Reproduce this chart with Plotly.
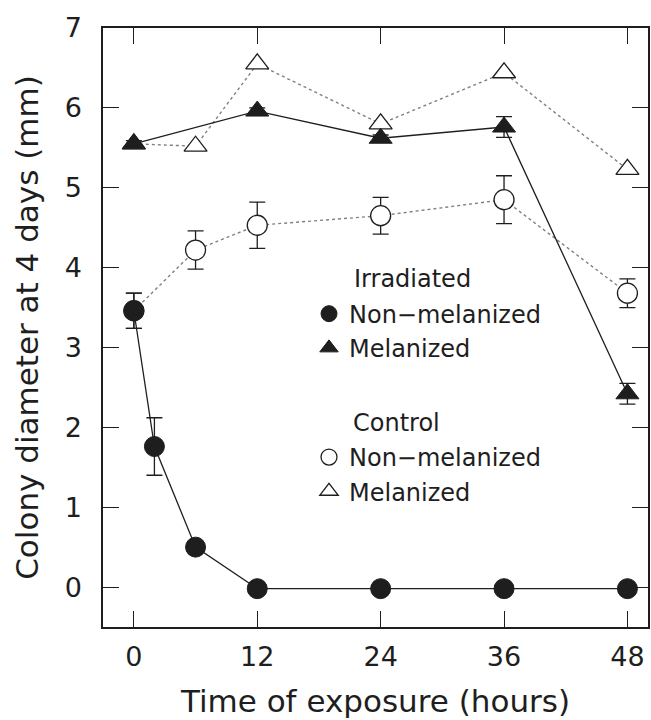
import plotly.graph_objects as go

# Data
t_irr_nonmel = [0, 2, 6, 12, 24, 36, 48]
irr_nonmel = [3.46, 1.76, 0.50, -0.02, -0.02, -0.02, -0.02]
irr_nonmel_err = [0.22, 0.36, 0, 0, 0, 0, 0]

t_irr_mel = [0, 12, 24, 36, 48]
irr_mel = [5.55, 5.96, 5.62, 5.76, 2.42]
irr_mel_err = [0.04, 0.04, 0.04, 0.13, 0.13]

t_ctrl = [0, 6, 12, 24, 36, 48]
ctrl_nonmel = [3.46, 4.22, 4.53, 4.65, 4.85, 3.68]
ctrl_nonmel_err = [0.22, 0.24, 0.29, 0.23, 0.30, 0.18]
ctrl_mel = [5.55, 5.52, 6.55, 5.80, 6.44, 5.23]

x_ticks = [0, 12, 24, 36, 48]
y_ticks = [0, 1, 2, 3, 4, 5, 6, 7]

FONT = "DejaVu Sans"
DARK = "#1e1e1e"
GRAY = "#808080"
MS = 20

fig = go.Figure()

# connecting lines (no legend)
fig.add_trace(go.Scatter(x=t_ctrl, y=ctrl_mel, mode="lines",
                         line=dict(color=GRAY, width=1.4, dash="dot"), showlegend=False, hoverinfo="skip"))
fig.add_trace(go.Scatter(x=t_ctrl, y=ctrl_nonmel, mode="lines",
                         line=dict(color=GRAY, width=1.4, dash="dot"), showlegend=False, hoverinfo="skip"))
fig.add_trace(go.Scatter(x=t_irr_mel, y=irr_mel, mode="lines",
                         line=dict(color=DARK, width=1.3), showlegend=False, hoverinfo="skip"))
fig.add_trace(go.Scatter(x=t_irr_nonmel, y=irr_nonmel, mode="lines",
                         line=dict(color=DARK, width=1.3), showlegend=False, hoverinfo="skip"))

# control markers
fig.add_trace(go.Scatter(x=t_ctrl, y=ctrl_nonmel, mode="markers", name="Non\u2212melanized",
                         legendgroup="ctrl", legendrank=3,
                         marker=dict(symbol="circle", size=MS, color="white", line=dict(color=DARK, width=1.3)),
                         error_y=dict(type="data", array=ctrl_nonmel_err, color=DARK, thickness=1.3, width=8)))
fig.add_trace(go.Scatter(x=t_ctrl, y=ctrl_mel, mode="markers", name="Melanized",
                         legendgroup="ctrl", legendrank=4,
                         marker=dict(symbol="triangle-up", size=MS, color="white", line=dict(color=DARK, width=1.3))))

# irradiated markers
fig.add_trace(go.Scatter(x=t_irr_nonmel, y=irr_nonmel, mode="markers", name="Non\u2212melanized",
                         legendgroup="irr", legendrank=1,
                         marker=dict(symbol="circle", size=MS, color=DARK, line=dict(color=DARK, width=1)),
                         error_y=dict(type="data", array=irr_nonmel_err, color=DARK, thickness=1.3, width=8)))
fig.add_trace(go.Scatter(x=t_irr_mel, y=irr_mel, mode="markers", name="Melanized",
                         legendgroup="irr", legendrank=2,
                         marker=dict(symbol="triangle-up", size=MS, color=DARK, line=dict(color=DARK, width=1)),
                         error_y=dict(type="data", array=irr_mel_err, color=DARK, thickness=1.3, width=8)))

axis_common = dict(showgrid=False, zeroline=False, showline=True, linecolor=DARK, linewidth=1.5,
                   mirror="ticks", ticks="inside", ticklen=16, tickwidth=1.3, tickcolor=DARK,
                   tickfont=dict(family=FONT, size=27, color=DARK))

fig.update_layout(
    width=651, height=720,
    margin=dict(l=103, r=1, t=28, b=93),
    paper_bgcolor="white", plot_bgcolor="white",
    font=dict(family=FONT, color=DARK),
    xaxis=dict(range=[-3, 50], tickvals=x_ticks, ticklabelstandoff=5,
               title=dict(text="Time of exposure (hours)", font=dict(family=FONT, size=31, color=DARK), standoff=19),
               **axis_common),
    yaxis=dict(range=[-0.5, 7], tickvals=y_ticks, ticklabelstandoff=14,
               title=dict(text="Colony diameter at 4 days (mm)", font=dict(family=FONT, size=31, color=DARK), standoff=17),
               **axis_common),
    legend=dict(x=0.378, y=0.56, xanchor="left", yanchor="top", traceorder="grouped",
                tracegroupgap=75, bgcolor="rgba(0,0,0,0)", font=dict(family=FONT, size=24, color=DARK)),
    annotations=[
        dict(text="Irradiated", x=0.457, y=0.581, xref="paper", yref="paper", xanchor="left", yanchor="middle",
             showarrow=False, font=dict(family=FONT, size=24, color=DARK)),
        dict(text="Control", x=0.455, y=0.341, xref="paper", yref="paper", xanchor="left", yanchor="middle",
             showarrow=False, font=dict(family=FONT, size=24, color=DARK)),
    ],
)

fig.write_html("out.html")
